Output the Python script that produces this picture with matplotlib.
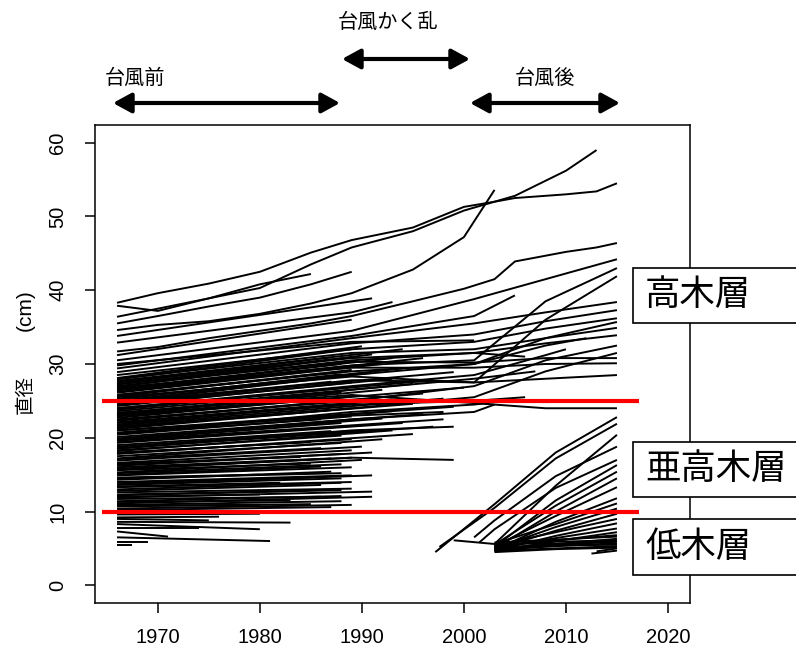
import matplotlib
matplotlib.use("Agg")
import matplotlib.pyplot as plt
from matplotlib.patches import Rectangle, FancyArrowPatch, ArrowStyle
import math

nan = float("nan")

# ---------------- data ----------------
# tall canopy trees, diameter (cm) at census years
canopy_years = [1966, 1970, 1975, 1980, 1985, 1989, 1995, 2000, 2003, 2005, 2010, 2013, 2015]
canopy_t1 = [38.3, 39.6, 40.9, 42.5, 45.1, 46.8, 48.5, 51.3, 52.0, 52.5, 53.0, 53.4, 54.5]
canopy_t2 = [36.4, 37.5, 38.9, 40.3, 43.5, 45.8, 48.0, 50.8, 52.0, 52.8, 56.2, 59.0, nan]
canopy_t3 = [37.9, 37.2, 38.9, 40.8, 42.2, nan, nan, nan, nan, nan, nan, nan, nan]
canopy_t4 = [35.5, 36.5, 37.8, 39.0, 40.8, 42.5, nan, nan, nan, nan, nan, nan, nan]
canopy_t5 = [34.6, 35.3, 35.8, 36.8, 38.2, 39.6, 42.8, 47.2, 53.6, nan, nan, nan, nan]
canopy_t6 = [31.7, 32.3, 33.5, 34.5, 35.5, 36.5, 38.5, 40.2, 41.5, 43.9, 45.2, 45.8, 46.4]

# trees alive from 1966 that persisted through / after the typhoon period
mid_d1966 = [30.5, 26.5, 24.5, 29.4, 28.9, 28.5, 25.8, 28.0, 27.6, 27.3, 26.8, 25.5, 23.4, 22.5, 21.5,
             29.8, 30.0, 33.8, 32.9, 31.2, 27.0, 24.0, 20.5, 19.8, 18.5, 15.8, 22.0, 21.0, 23.0, 24.8]
mid_d1989 = [34.5, 29.8, 27.8, 33.5, 32.8, 32.0, 29.0, 31.5, 30.8, 30.3, 29.5, 28.3, 25.8, 25.0, 24.0,
             33.8, 33.0, nan, 37.0, nan, 30.5, 27.0, 23.5, 22.5, 21.0, 17.3, 24.5, 23.0, 26.5, 28.5]
mid_d2001 = [38.8, 30.5, 27.5, 35.5, 34.0, 33.0, 30.0, 32.0, 31.5, 30.2, 29.5, 27.5, 24.7, 27.0, 25.5,
             36.5, nan, nan, nan, nan, 31.5, 28.5, 24.5, 23.5, nan, nan, 25.0, nan, 28.0, 30.0]
mid_d2008 = [41.5, 38.5, 36.0, 37.0, 35.8, 34.8, 33.5, 33.5, 32.8, 30.8, 30.0, 28.0, 24.0, 30.5, 29.0,
             nan, nan, nan, nan, nan, nan, 31.2, nan, nan, nan, nan, nan, nan, nan, 32.5]
mid_last_year = [2015, 2015, 2015, 2015, 2015, 2015, 2015, 2015, 2015, 2015, 2015, 2015, 2015, 2015, 2015,
                 2005, 2001, 1991, 1993, 1989, 2006, 2010, 2004, 2003, 1999, 1999, 2006, 1998, 2007, 2012]
mid_d_last = [44.2, 43.0, 41.9, 38.4, 37.3, 36.2, 35.7, 34.9, 33.9, 30.8, 30.1, 28.5, 24.0, 32.5, 31.5,
              39.3, 33.2, 38.9, 38.4, 36.0, 31.0, 32.0, 25.0, 24.5, 21.5, 17.0, 25.5, 23.5, 29.0, 33.5]

# pre-typhoon cohort: diameter in 1966, last census year, last diameter
pre_d1966 = [10.2, 10.4, 10.7, 10.8, 10.9, 11.1, 11.3, 11.4, 11.7, 11.9, 12.0, 12.2, 12.3, 12.6, 12.8, 13.0,
             13.3, 13.4, 13.6, 13.7, 13.9, 14.0, 14.3, 14.5, 14.6, 14.9, 15.0, 15.2, 15.3, 15.6, 15.7, 16.0,
             16.2, 16.3, 16.5, 16.6, 16.9,
             17.1, 17.2, 17.5, 17.8, 17.9, 18.0, 18.2, 18.3, 18.6, 18.8, 19.0, 19.3, 19.4, 19.6, 19.7, 19.9,
             20.1, 20.4, 20.6, 20.7, 21.0,
             21.2, 21.4, 21.5, 21.7, 21.8, 22.1, 22.3, 22.4, 22.7, 22.9, 23.0, 23.2, 23.3, 23.6, 23.8, 24.0,
             24.3, 24.4, 24.7, 24.9,
             25.0, 25.2, 25.3, 25.6, 25.8, 26.1, 26.2, 26.4, 26.5, 26.7, 26.9, 27.2, 27.4, 27.7, 27.9, 28.1]
pre_last_year = [1987, 1989, 1985, 1980, 1988, 1991, 1983, 1988, 1986, 1991, 1980, 1988, 1984, 1989, 1986, 1988,
                 1989, 1982, 1988, 1991, 1985, 1989, 1987, 1988, 1980, 1989, 1986, 1988, 1990, 1985, 1989, 1987,
                 1991, 1988, 1984, 1989, 1990,
                 1986, 1992, 1988, 1995, 1989, 1985, 1993, 1988, 1997, 1990, 1987, 1994, 1989, 1998, 1988, 1992,
                 1996, 1989, 1986, 1993, 1999,
                 1989, 1995, 1987, 1998, 1990, 1993, 1988, 1996, 1989, 2000, 1986, 1992, 1988, 1995, 1990, 1997,
                 1989, 1993, 1987, 1999,
                 1991, 1988, 1994, 1989, 1986, 1992, 1990, 1996, 1988, 1993, 1989, 1991, 1987, 1994, 1989, 1990]
pre_d_last = [10.6, 10.9, 11.0, 10.9, 11.4, 12.0, 11.5, 12.1, 12.0, 12.7, 12.3, 12.9, 12.8, 13.1, 13.6, 13.9,
              14.0, 13.9, 14.5, 14.9, 14.6, 14.9, 15.4, 15.2, 15.0, 16.0, 16.1, 16.4, 17.0, 16.5, 17.3, 17.2,
              18.0, 17.8, 17.4, 18.3, 18.8,
              18.6, 19.8, 19.3, 20.5, 19.8, 19.4, 21.0, 20.3, 21.5, 21.0, 20.9, 22.0, 21.6, 22.5, 22.0, 22.6,
              23.2, 22.9, 22.5, 23.6, 24.2,
              24.0, 24.6, 23.8, 25.3, 24.8, 25.2, 25.0, 26.0, 25.6, 26.8, 25.4, 26.5, 26.2, 27.3, 27.0, 27.8,
              27.5, 28.0, 27.6, 28.9,
              28.8, 28.6, 29.4, 29.2, 28.7, 30.0, 29.9, 30.8, 30.0, 30.8, 30.9, 31.3, 30.9, 32.0, 32.0, 32.4]

# small understory trees of 1966
low_d1966 = [9.8, 9.6, 9.2, 9.0, 8.6, 8.3, 7.8, 7.3, 6.5, 5.9, 5.4]
low_last_year = [1978, 1980, 1976, 1975, 1983, 1980, 1974, 1971, 1981, 1969, 1967.5]
low_d_last = [9.9, 9.7, 9.3, 8.8, 8.5, 7.6, 7.8, 6.6, 6.0, 5.9, 5.4]

# recruits after the typhoon
rec_first_year = [1997.2, 1997.6, 1999.0, 2001.0, 2001.5] + [2003] * 22 + [2012.5, 2013.0]
rec_d_first = [4.5, 5.2, 6.1, 6.5, 5.8,
               5.2, 5.5, 5.0, 5.3, 4.8, 5.6, 5.0, 4.9, 5.4, 4.7, 5.1, 4.6, 5.3, 5.8, 4.9, 5.5, 5.0, 4.8,
               5.2, 4.7, 5.7, 4.5, 4.3, 4.6]
rec_d2003 = [11.0, 10.5, 5.6, 8.8, 7.6] + [nan] * 24
rec_d2009 = [18.0, 17.2, 13.5, 14.8, 13.2,
             11.5, 10.8, 10.0, 9.4, 8.6, 8.3, 7.9, 7.4, 7.2, 6.7, 6.4, 6.0, 6.1, 6.2, 5.6, 5.9, 5.5, 5.3,
             5.4, 5.0, 5.6, 4.9, nan, nan]
rec_d2015 = [22.8, 21.9, 20.4, 18.8, 17.0,
             16.3, 15.4, 14.5, 13.3, 11.8, 11.1, 10.4, 9.7, 9.0, 8.4, 7.7, 7.2, 6.8, 6.6, 6.3, 6.1, 5.9, 5.7,
             5.5, 5.3, 6.0, 5.1, 4.7, 5.0]

layer_limits = [25, 10]
x_ticks = [1970, 1980, 1990, 2000, 2010, 2020]
y_ticks = [0, 10, 20, 30, 40, 50, 60]

# ---------------- figure ----------------
W, H = 796, 650
fig = plt.figure(figsize=(W / 100, H / 100), dpi=100)
def fx(x):
    return x / W
def fy(y):
    return 1 - y / H

ax = fig.add_axes([fx(95), fy(603), fx(690) - fx(95), fy(125) - fy(603)])
ax.set_xlim(1963.84, 2022.16)
ax.set_ylim(-2.4, 62.4)

LW = 1.4
def draw(xs, ys):
    ax.plot(xs, ys, color="black", lw=LW, solid_joinstyle="round", solid_capstyle="butt")

# pre cohort
for d0, ly, dl in zip(pre_d1966, pre_last_year, pre_d_last):
    draw([1966, ly], [d0, dl])
for d0, ly, dl in zip(low_d1966, low_last_year, low_d_last):
    draw([1966, ly], [d0, dl])
# mid survivors
for d0, d89, d01, d08, ly, dl in zip(mid_d1966, mid_d1989, mid_d2001, mid_d2008, mid_last_year, mid_d_last):
    xs, ys = [1966], [d0]
    for yr, v in ((1989, d89), (2001, d01), (2008, d08)):
        if yr < ly and not math.isnan(v):
            xs.append(yr); ys.append(v)
    xs.append(ly); ys.append(dl)
    draw(xs, ys)
# canopy
for tree in (canopy_t1, canopy_t2, canopy_t3, canopy_t4, canopy_t5, canopy_t6):
    xs = [y for y, v in zip(canopy_years, tree) if not math.isnan(v)]
    ys = [v for v in tree if not math.isnan(v)]
    draw(xs, ys)
# recruits
for fyr, d0, d03, d09, d15 in zip(rec_first_year, rec_d_first, rec_d2003, rec_d2009, rec_d2015):
    xs, ys = [fyr], [d0]
    for yr, v in ((2003, d03), (2009, d09)):
        if yr > fyr and not math.isnan(v):
            xs.append(yr); ys.append(v)
    xs.append(2015); ys.append(d15)
    draw(xs, ys)

# layer boundaries
for lim in layer_limits:
    ax.plot([1964.5, 2017.2], [lim, lim], color="#ff0000", lw=3.0, solid_capstyle="butt", zorder=5)

ax.set_xticks(x_ticks)
ax.set_yticks(y_ticks)
ax.set_xticklabels([str(t) for t in x_ticks], fontsize=14.5, family="Liberation Sans")
ax.set_yticklabels([str(t) for t in y_ticks], fontsize=14.5, family="Liberation Sans",
                   rotation=90, va="center")
ax.tick_params(axis="x", length=7, width=1.1, pad=11, direction="out")
ax.tick_params(axis="y", length=7, width=1.1, pad=13, direction="out")
for s in ax.spines.values():
    s.set_linewidth(1.1)

jp = ["Noto Sans CJK JP", "DejaVu Sans"]
# y axis title: 直径 (cm)
fig.text(fx(25), fy(394), "直径", rotation=90, ha="center", va="center", fontsize=14, family=jp)
fig.text(fx(25), fy(310), "(cm)", rotation=90, ha="center", va="center", fontsize=15,
         family="Liberation Sans")

# period arrows
style = ArrowStyle("<|-|>", head_length=0.55, head_width=0.3)
for x0, x1, yy in ((113, 340, 103), (342, 470, 59), (470, 620, 103)):
    fig.add_artist(FancyArrowPatch((fx(x0), fy(yy)), (fx(x1), fy(yy)), transform=fig.transFigure,
                                   arrowstyle=style, mutation_scale=20, lw=3.0, color="black",
                                   shrinkA=0, shrinkB=0))
fig.text(fx(135), fy(78), "台風前", ha="center", va="center", fontsize=14.5, family=jp)
fig.text(fx(388), fy(22), "台風かく乱", ha="center", va="center", fontsize=14.5, family=jp)
fig.text(fx(545), fy(78), "台風後", ha="center", va="center", fontsize=14.5, family=jp)

# layer boxes
for label, top, bot in (("高木層", 268, 323), ("亜高木層", 442, 497), ("低木層", 519, 575)):
    fig.add_artist(Rectangle((fx(633), fy(bot)), fx(820) - fx(633), fy(top) - fy(bot),
                             transform=fig.transFigure, facecolor="white", edgecolor="black",
                             lw=1.2, zorder=10))
    fig.text(fx(645), fy((top + bot) / 2), label, ha="left", va="center", fontsize=25.5,
             family=jp, zorder=11)

fig.savefig("out.png", dpi=100)
